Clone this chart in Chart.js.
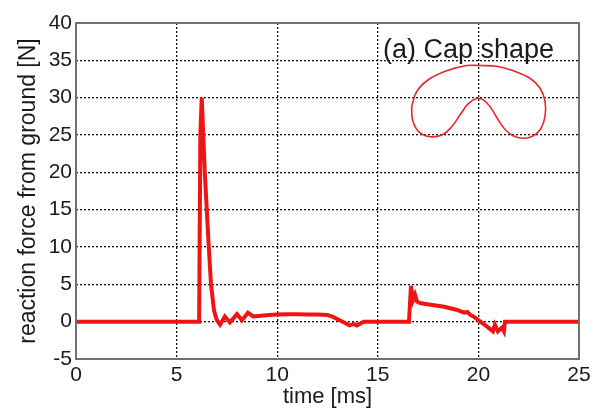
<!DOCTYPE html>
<html>
<head>
<meta charset="utf-8">
<script src="https://cdn.jsdelivr.net/npm/chart.js@4.4.1/dist/chart.umd.min.js"></script>
<style>
  html, body { margin: 0; padding: 0; background: #fff; }
  #wrap { width: 605px; height: 412px; }
</style>
</head>
<body>
<div id="wrap"><canvas id="forceChart" width="605" height="412"></canvas></div>
<script>
let timeMs = [0, 6.12, 6.18, 6.25, 6.4, 6.6, 6.71, 6.86, 7.0, 7.16, 7.4, 7.65, 8.0, 8.25, 8.55, 8.8, 9.2, 9.6,
    10.0, 10.5, 11.0, 11.5, 12.0, 12.5, 12.8, 13.1, 13.4, 13.6, 13.8, 13.95, 14.1, 14.3,
    16.55, 16.65, 16.75, 16.85, 16.95, 17.1, 17.3, 17.8, 18.3, 18.9, 19.3, 19.45, 19.6, 19.75,
    20.1, 20.45, 20.72, 20.82, 20.97, 21.17, 21.27, 21.32, 25];
let forceN = [0, 0, 25, 30, 20, 10, 5, 1.5, 0.2, -0.4, 0.7, -0.1, 1.0, 0.2, 1.2, 0.7, 0.8, 0.9,
    0.95, 1.0, 1.0, 0.95, 0.95, 0.9, 0.6, 0.2, -0.2, -0.5, -0.3, -0.5, -0.3, 0,
    0, 4.8, 2.9, 3.6, 2.7, 2.5, 2.4, 2.2, 2.0, 1.6, 1.2, 1.3, 0.9, 0.7,
    0, -0.7, -1.3, -0.4, -1.3, -0.8, -1.3, 0, 0];

// outline of the cap drawn inside the plot (in axis units)
let capX = [16.68, 16.93, 17.51, 18.42, 19.42, 20.08, 20.91, 21.74, 22.56, 23.06, 23.31, 23.31, 23.06,
    22.56, 21.9, 21.41, 20.99, 20.58, 20.24, 19.92, 19.5, 19.09, 18.67, 18.18, 17.51, 17.01, 16.73, 16.68];
let capY = [28.8, 30.8, 32.4, 33.6, 34.3, 34.3, 34.2, 33.6, 32.6, 31.3, 29.5, 27.5, 25.7,
    24.7, 24.7, 25.5, 27.0, 28.8, 29.7, 29.9, 29.2, 27.7, 26.1, 25.0, 24.8, 25.5, 27.0, 28.8];

let xTicks = [0, 5, 10, 15, 20, 25];
let yTicks = [-5, 0, 5, 10, 15, 20, 25, 30, 35, 40];
let panelLabel = "(a) Cap shape";
let xTitle = "time [ms]";
let yTitle = "reaction force from ground [N]";

function toPoints(xs, ys) {
    let pts = [];
    xs.forEach(function (x, i) {
        pts.push({ x: x, y: ys[i] });
    });
    return pts;
}

let textColor = "#1a1a1a";
let fontFamily = "'Liberation Sans', Arial, sans-serif";
let gridStyle = {
    color: "#111",
    lineWidth: 1.3,
    drawTicks: false
};

// box around plot + panel label
const frame = {
    id: "frame",
    afterDatasetsDraw(chart) {
        let ctx = chart.ctx;
        let a = chart.chartArea;
        ctx.save();
        ctx.strokeStyle = "#707070";
        ctx.lineWidth = 2;
        ctx.strokeRect(a.left, a.top, a.right - a.left, a.bottom - a.top);
        ctx.fillStyle = textColor;
        ctx.font = "27px " + fontFamily;
        ctx.textBaseline = "alphabetic";
        ctx.fillText(panelLabel, 383, 58);
        ctx.restore();
    }
};

new Chart("forceChart", {
    type: "scatter",
    data: {
        datasets: [{
            data: toPoints(timeMs, forceN),
            showLine: true,
            borderColor: "#f01414",
            borderWidth: 4,
            pointRadius: 0,
            tension: 0
        }, {
            data: toPoints(capX, capY),
            showLine: true,
            borderColor: "#e82828",
            borderWidth: 1.6,
            pointRadius: 0,
            tension: 0.4
        }]
    },
    options: {
        responsive: false,
        animation: false,
        layout: { padding: { top: 23, right: 26, left: 0, bottom: 0 } },
        plugins: {
            legend: { display: false },
            tooltip: { enabled: false }
        },
        scales: {
            x: {
                type: "linear",
                min: 0,
                max: 25,
                afterFit: function (s) { s.height = 53; },
                afterBuildTicks: function (s) { s.ticks = xTicks.map(v => ({ value: v })); },
                grid: gridStyle,
                border: { display: false, dash: [2, 2] },
                ticks: {
                    color: textColor,
                    padding: 4,
                    maxRotation: 0,
                    font: { family: fontFamily, size: 21 }
                },
                title: {
                    display: true,
                    text: xTitle,
                    color: textColor,
                    padding: { top: 0, bottom: 2 },
                    font: { family: fontFamily, size: 22 }
                }
            },
            y: {
                min: -5,
                max: 40,
                afterFit: function (s) { s.width = 76; },
                afterBuildTicks: function (s) { s.ticks = yTicks.map(v => ({ value: v })); },
                grid: gridStyle,
                border: { display: false, dash: [2, 2] },
                ticks: {
                    color: textColor,
                    padding: 4,
                    font: { family: fontFamily, size: 21 }
                },
                title: {
                    display: true,
                    text: yTitle,
                    color: textColor,
                    padding: { top: 15, bottom: 0 },
                    font: { family: fontFamily, size: 23 }
                }
            }
        }
    },
    plugins: [frame]
});
</script>
</body>
</html>
